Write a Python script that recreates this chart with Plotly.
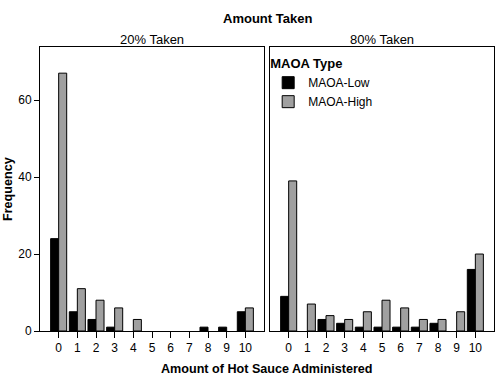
import plotly.graph_objects as go

categories = list(range(11))
tick_labels = [str(c) for c in categories]
low_20 = [24, 5, 3, 1, 0, 0, 0, 0, 1, 1, 5]
high_20 = [67, 11, 8, 6, 3, 0, 0, 0, 0, 0, 6]
low_80 = [9, 0, 3, 2, 1, 1, 1, 1, 2, 0, 16]
high_80 = [39, 7, 4, 3, 5, 8, 6, 3, 3, 5, 20]
panel_titles = ["20% Taken", "80% Taken"]
series_names = ["MAOA-Low", "MAOA-High"]
y_ticks = [0, 20, 40, 60]

FONT = "Liberation Sans, Arial, sans-serif"
BLACK = "#000000"
GREY = "#a0a0a0"


def nz(vals):
    # zero counts draw no bar (no outline at the baseline)
    return [v if v != 0 else None for v in vals]


fig = go.Figure()
fig.add_trace(go.Bar(x=categories, y=nz(low_20), name=series_names[0], marker=dict(color=BLACK, line=dict(color=BLACK, width=1)),
                     xaxis="x", yaxis="y", offsetgroup="a", legendgroup="low", showlegend=True))
fig.add_trace(go.Bar(x=categories, y=nz(high_20), name=series_names[1], marker=dict(color=GREY, line=dict(color=BLACK, width=1)),
                     xaxis="x", yaxis="y", offsetgroup="b", legendgroup="high", showlegend=True))
fig.add_trace(go.Bar(x=categories, y=nz(low_80), name=series_names[0], marker=dict(color=BLACK, line=dict(color=BLACK, width=1)),
                     xaxis="x2", yaxis="y2", offsetgroup="a", legendgroup="low", showlegend=False))
fig.add_trace(go.Bar(x=categories, y=nz(high_80), name=series_names[1], marker=dict(color=GREY, line=dict(color=BLACK, width=1)),
                     xaxis="x2", yaxis="y2", offsetgroup="b", legendgroup="high", showlegend=False))

W, H = 500, 379
ml, mr, mt, mb = 40, 6, 47, 48
pw = W - ml - mr
d1 = (264 - ml) / pw
d2 = (270 - ml) / pw

xcommon = dict(range=[-1, 11], tickvals=categories, ticktext=tick_labels, ticks="outside", ticklen=6,
               tickcolor=BLACK, showline=True, linecolor=BLACK, linewidth=1, mirror=True, showgrid=False,
               zeroline=False, automargin=False, tickfont=dict(size=12, color=BLACK, family=FONT))
ycommon = dict(range=[0, 73.8], showline=True, linecolor=BLACK, linewidth=1, mirror=True, showgrid=False,
               zeroline=False, automargin=False)

fig.update_layout(
    width=W, height=H, margin=dict(l=ml, r=mr, t=mt, b=mb, autoexpand=False),
    paper_bgcolor="white", plot_bgcolor="white",
    font=dict(family=FONT, color=BLACK, size=12),
    barmode="group", bargap=0.14, bargroupgap=0,
    xaxis=dict(domain=[0, d1], anchor="y", **xcommon),
    xaxis2=dict(domain=[d2, 1], anchor="y2", **xcommon),
    yaxis=dict(anchor="x", tickvals=y_ticks, ticks="outside", ticklen=5, tickcolor=BLACK,
               tickfont=dict(size=12, color=BLACK, family=FONT), **ycommon),
    yaxis2=dict(anchor="x2", showticklabels=False, ticks="", **ycommon),
    legend=dict(x=d2 - 0.004, xanchor="left", y=0.985, yanchor="top", bgcolor="rgba(0,0,0,0)",
                title=dict(text="<b>MAOA Type</b>", font=dict(size=13, family=FONT, color=BLACK)),
                font=dict(size=12, family=FONT, color=BLACK), tracegroupgap=0, itemwidth=30),
    annotations=[
        dict(text="<b>Amount Taken</b>", x=0.5, y=1, xref="paper", yref="paper", yshift=29,
             xanchor="center", yanchor="middle", showarrow=False, font=dict(size=13, family=FONT, color=BLACK)),
        dict(text=panel_titles[0], x=d1 / 2, y=1, xref="paper", yref="paper", yshift=8,
             xanchor="center", yanchor="middle", showarrow=False, font=dict(size=13, family=FONT, color=BLACK)),
        dict(text=panel_titles[1], x=(d2 + 1) / 2, y=1, xref="paper", yref="paper", yshift=8,
             xanchor="center", yanchor="middle", showarrow=False, font=dict(size=13, family=FONT, color=BLACK)),
        dict(text="<b>Amount of Hot Sauce Administered</b>", x=0.5, y=0, xref="paper", yref="paper", yshift=-38,
             xanchor="center", yanchor="middle", showarrow=False, font=dict(size=12.6, family=FONT, color=BLACK)),
        dict(text="<b>Frequency</b>", x=0, y=0.5, xref="paper", yref="paper", xshift=-32, textangle=-90,
             xanchor="center", yanchor="middle", showarrow=False, font=dict(size=12.6, family=FONT, color=BLACK)),
    ],
)

fig.write_html("out.html", config={"displayModeBar": False},
               post_script="document.body.style.margin='0';document.body.style.overflow='hidden';")
